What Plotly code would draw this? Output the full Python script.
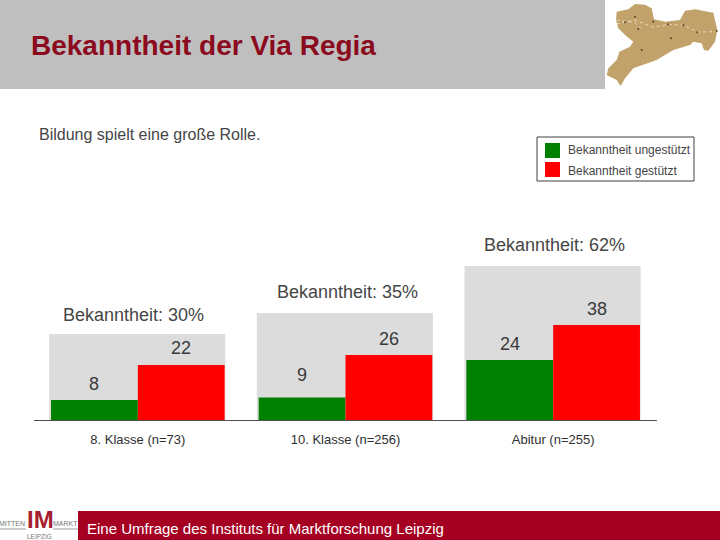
import plotly.graph_objects as go

categories = ["8. Klasse (n=73)", "10. Klasse (n=256)", "Abitur (n=255)"]
ungestuetzt = [8, 9, 24]
gestuetzt = [22, 26, 38]
backdrop = [34.4, 42.8, 61.6]
totals = ["Bekanntheit: 30%", "Bekanntheit: 35%", "Bekanntheit: 62%"]
series_names = ["Bekanntheit ungestützt", "Bekanntheit gestützt"]
series_colors = ["#008000", "#FF0000"]
FONT = "Liberation Sans"
W, H = 720, 540

def px(x): return x / W
def py(y): return 1 - y / H

fig = go.Figure()
xs = list(range(len(categories)))
fig.add_bar(x=xs, y=backdrop, width=0.848, offset=-0.427, marker=dict(color="#DCDCDC", line_width=0),
            showlegend=False, hoverinfo="skip")
fig.add_bar(x=xs, y=ungestuetzt, width=0.418, offset=-0.418, name=series_names[0],
            marker=dict(color=series_colors[0], line_width=0))
fig.add_bar(x=xs, y=gestuetzt, width=0.418, offset=0, name=series_names[1],
            marker=dict(color=series_colors[1], line_width=0))

annotations = []
for i in xs:
    annotations.append(dict(x=i - 0.209, y=ungestuetzt[i], text=str(ungestuetzt[i]), showarrow=False, yanchor="middle",
                            yshift=[16, 22, 16][i], font=dict(family=FONT, size=18, color="#3A3A3A")))
    annotations.append(dict(x=i + 0.209, y=gestuetzt[i], text=str(gestuetzt[i]), showarrow=False, yanchor="middle",
                            yshift=[17, 16, 16][i], font=dict(family=FONT, size=18, color="#3A3A3A")))
for x, y, t in zip([133, 347, 554], [315, 292, 245], totals):
    annotations.append(dict(xref="paper", yref="paper", x=px(x), y=py(y), text=t, showarrow=False,
                            xanchor="center", yanchor="middle", font=dict(family=FONT, size=18, color="#454545")))

def note(x, y, text, size, color, anchor="left"):
    return dict(xref="paper", yref="paper", x=px(x), y=py(y), text=text, showarrow=False,
                xanchor=anchor, yanchor="middle", font=dict(family=FONT, size=size, color=color))

annotations += [
    note(29, 45, "<b>Bekanntheit der Via Regia</b>", 28, "#8B0A1E"),
    note(37, 134.5, "Bildung spielt eine große Rolle.", 16, "#454545"),
    note(85, 528, "Eine Umfrage des Instituts für Marktforschung Leipzig", 15, "#FFFFFF"),
    note(40, 519, "<b>IM</b>", 24, "#A5202F", "center"),
    note(12, 523, "MITTEN", 7, "#777777", "center"),
    note(65, 523, "MARKT", 7, "#777777", "center"),
    note(39, 536, "LEIPZIG", 6.5, "#777777", "center"),
    note(566, 150.5, series_names[0], 12, "#454545"),
    note(566, 170.5, series_names[1], 12, "#454545"),
]

map_outline = [(50,35),(85,28),(105,12),(135,14),(155,25),(162,58),(195,65),(240,60),(255,32),(285,28),(340,38),
               (352,90),(345,125),(325,152),(312,150),(305,130),(280,125),(270,135),(220,150),(170,180),(100,205),
               (75,235),(62,258),(50,240),(20,225),(25,205),(50,180),(58,155),(90,140),(100,125),(75,105),(55,85),(48,60)]
route = [(50,72),(105,60),(160,82),(205,73),(250,76),(295,96),(350,95)]
route2 = [(50,60),(105,68),(125,88)]
cities = [(75,67),(105,50),(115,87),(160,65),(205,73),(250,76),(292,97),(350,93),(125,150),(213,115)]

def mx(a): return px(600 + a / 3)
def my(b): return py(b / 3)
def path(pts, close=True):
    s = "M" + " L".join(f"{mx(a):.4f},{my(b):.4f}" for a, b in pts)
    return s + (" Z" if close else "")

def rect(x0, y0, x1, y1, color):
    return dict(type="rect", xref="paper", yref="paper", x0=px(x0), x1=px(x1), y0=py(y0), y1=py(y1),
                fillcolor=color, line_width=0, layer="below")

shapes = [
    rect(0, 0, 605, 89, "#BFBFBF"),
    rect(78, 511, 720, 540, "#A50021"),
    dict(type="path", xref="paper", yref="paper", path=path(map_outline), fillcolor="#C1A26B", line_width=0, layer="below"),
    dict(type="path", xref="paper", yref="paper", path=path(route, False), line=dict(color="#EBDDBD", width=1, dash="dot"), layer="below"),
    dict(type="path", xref="paper", yref="paper", path=path(route2, False), line=dict(color="#EBDDBD", width=1, dash="dot"), layer="below"),
    dict(type="line", xref="paper", yref="paper", x0=px(0), x1=px(26), y0=py(529), y1=py(529), line=dict(color="#999999", width=1)),
    dict(type="line", xref="paper", yref="paper", x0=px(53), x1=px(78), y0=py(529), y1=py(529), line=dict(color="#999999", width=1)),
    dict(type="rect", xref="paper", yref="paper", x0=px(537), x1=px(694), y0=py(137), y1=py(181),
         line=dict(color="#404040", width=1), fillcolor="rgba(0,0,0,0)"),
    rect(545, 143, 560, 158, series_colors[0]),
    rect(545, 162, 560, 177, series_colors[1]),
]
for a, b in cities:
    shapes.append(dict(type="circle", xref="paper", yref="paper", x0=mx(a) - px(1), x1=mx(a) + px(1),
                       y0=my(b) - 1 / H, y1=my(b) + 1 / H, fillcolor="#5A4020", line_width=0))

fig.update_layout(
    width=W, height=H, autosize=False, margin=dict(l=0, r=0, t=0, b=0), barmode="overlay",
    paper_bgcolor="white", plot_bgcolor="rgba(0,0,0,0)",
    shapes=shapes, annotations=annotations, showlegend=False,
    xaxis=dict(domain=[px(34), px(657)], range=[-0.5, 2.5], tickmode="array", tickvals=xs, ticktext=categories,
               showgrid=False, zeroline=False, showline=True, linecolor="#505050", linewidth=1,
               ticks="", tickfont=dict(family=FONT, size=13, color="#303030"), ticklabelstandoff=7, fixedrange=True),
    yaxis=dict(domain=[py(420), py(260)], range=[0, 64], visible=False, fixedrange=True),
)
fig.write_html("out.html", config={"displayModeBar": False},
               post_script="document.body.style.margin='0';document.body.style.overflow='hidden';")
